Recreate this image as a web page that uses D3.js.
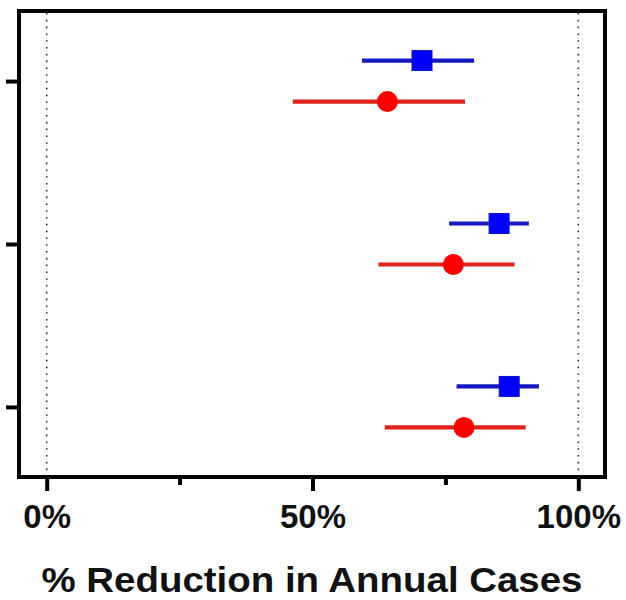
<!DOCTYPE html>
<html>
<head>
<meta charset="utf-8">
<script src="https://cdn.jsdelivr.net/npm/d3@7"></script>
<style>
  html, body { margin: 0; padding: 0; background: #fff; }
  svg { display: block; }
</style>
</head>
<body>
<svg id="chart" width="626" height="600"></svg>
<script>
// ---- data ----
const categories = ["Group 1", "Group 2", "Group 3"];
const seriesNames = ["Series A", "Series B"];
const blueMean = [70.6, 85.1, 87.0];
const blueLow  = [59.3, 75.7, 77.1];
const blueHigh = [80.4, 90.7, 92.6];
const redMean  = [64.1, 76.5, 78.5];
const redLow   = [46.3, 62.4, 63.6];
const redHigh  = [78.7, 88.0, 90.1];
const xTickValues = [0, 50, 100];
const xMinorTickValues = [25, 75];
const xTickLabels = ["0%", "50%", "100%"];
const xTitle = "% Reduction in Annual Cases";

// ---- layout ----
const frame = { left: 19, right: 605, top: 11, bottom: 477 };
const svg = d3.select("#chart");

const x = d3.scaleLinear().domain([0, 100]).range([46.7, 578.3]);
const y = d3.scalePoint().domain(categories).range([frame.top, frame.bottom]).padding(0.43);
const offset = d3.scalePoint().domain(seriesNames).range([-20.5, 20.5]);

// reference dotted lines at 0% and 100%
svg.selectAll("line.ref").data([0, 100]).enter().append("line")
  .attr("class", "ref")
  .attr("x1", d => x(d)).attr("x2", d => x(d))
  .attr("y1", frame.top + 2).attr("y2", frame.bottom - 2)
  .attr("stroke", "#333").attr("stroke-width", 1.6)
  .attr("stroke-dasharray", "1.6,5.2");

// data series
const series = [
  { name: seriesNames[0], mean: blueMean, lo: blueLow, hi: blueHigh, line: "#1818c0", fill: "#0000ff", shape: "square" },
  { name: seriesNames[1], mean: redMean,  lo: redLow,  hi: redHigh,  line: "#e0211c", fill: "#ff0000", shape: "circle" }
];

series.forEach(s => {
  const rows = categories.map((c, i) => ({ c, m: s.mean[i], lo: s.lo[i], hi: s.hi[i] }));
  const g = svg.append("g");
  g.selectAll("line").data(rows).enter().append("line")
    .attr("x1", d => x(d.lo)).attr("x2", d => x(d.hi))
    .attr("y1", d => y(d.c) + offset(s.name)).attr("y2", d => y(d.c) + offset(s.name))
    .attr("stroke", s.line).attr("stroke-width", 4.2);
  if (s.shape === "square") {
    const size = 20;
    g.selectAll("rect").data(rows).enter().append("rect")
      .attr("x", d => x(d.m) - size / 2).attr("y", d => y(d.c) + offset(s.name) - size / 2)
      .attr("width", size).attr("height", size)
      .attr("fill", s.fill).attr("stroke", "#1010c8").attr("stroke-width", 1);
  } else {
    g.selectAll("circle").data(rows).enter().append("circle")
      .attr("cx", d => x(d.m)).attr("cy", d => y(d.c) + offset(s.name))
      .attr("r", 10.5).attr("fill", s.fill);
  }
});

// frame
svg.append("rect")
  .attr("x", frame.left).attr("y", frame.top)
  .attr("width", frame.right - frame.left).attr("height", frame.bottom - frame.top)
  .attr("fill", "none").attr("stroke", "#000").attr("stroke-width", 4);

// x axis
const xAxis = svg.append("g").attr("transform", `translate(0,${frame.bottom + 2})`)
  .call(d3.axisBottom(x).tickValues(xTickValues).tickSize(12).tickPadding(14)
    .tickFormat((d, i) => xTickLabels[i]));
xAxis.select(".domain").remove();
xAxis.selectAll(".tick line").attr("stroke", "#000").attr("stroke-width", 4);
xAxis.selectAll(".tick text")
  .attr("fill", "#111")
  .style("font-family", "'Liberation Sans', Arial, sans-serif")
  .style("font-weight", "bold").style("font-size", "33px");

const xMinor = svg.append("g").attr("transform", `translate(0,${frame.bottom + 2})`)
  .call(d3.axisBottom(x).tickValues(xMinorTickValues).tickSize(6).tickFormat(""));
xMinor.select(".domain").remove();
xMinor.selectAll(".tick line").attr("stroke", "#000").attr("stroke-width", 4);

// y axis (labels fall outside the picture)
const yAxis = svg.append("g").attr("transform", `translate(${frame.left - 2},0)`)
  .call(d3.axisLeft(y).tickSize(11).tickFormat(""));
yAxis.select(".domain").remove();
yAxis.selectAll(".tick line").attr("stroke", "#000").attr("stroke-width", 4);

// x title
svg.append("text")
  .attr("x", 312).attr("y", 592)
  .attr("text-anchor", "middle")
  .attr("textLength", 541).attr("lengthAdjust", "spacingAndGlyphs")
  .style("font-family", "'Liberation Sans', Arial, sans-serif")
  .style("font-weight", "bold").style("font-size", "35px")
  .attr("fill", "#111")
  .text(xTitle);
</script>
</body>
</html>
